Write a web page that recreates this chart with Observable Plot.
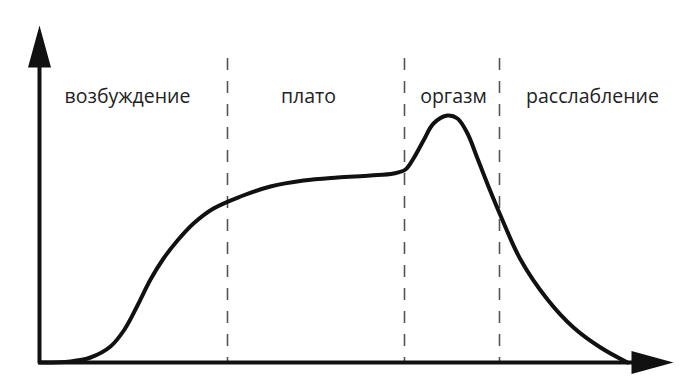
<!DOCTYPE html>
<html>
<head>
<meta charset="utf-8">
<script src="https://cdn.jsdelivr.net/npm/d3@7"></script>
<script src="https://cdn.jsdelivr.net/npm/@observablehq/plot@0.6"></script>
<style>
  html, body { margin: 0; padding: 0; background: #fff; }
  #chart svg { display: block; }
</style>
</head>
<body>
<div id="chart"></div>
<script>
// Phase names and boundaries (time units)
const phaseNames = ["возбуждение", "плато", "оргазм", "расслабление"];
const phaseBounds = [188, 365, 460];          // dashed separators
const labelT = [88, 269, 414, 553];            // label centers along time

// Response curve (time, intensity)
const curveT = [0, 31, 51, 71, 85, 98, 111, 124, 138, 154, 174, 201, 231, 264, 298, 331, 354, 366, 374, 384, 394, 408, 418, 428, 438, 451, 461, 481, 508, 534, 561, 588];
const curveV = [0, 1, 5, 16, 33, 57, 83, 104, 122, 139, 154, 166, 176, 182, 185, 187, 189, 193, 204, 222, 239, 247, 244, 229, 204, 171, 147, 103, 63, 35, 15, 0];

// Axis extents
const timeMax = 634;
const valueMax = 337;
const separatorTop = 304;
const labelV = 266;

const curve = curveT.map((t, i) => ({t, v: curveV[i]}));
const labels = phaseNames.map((name, i) => ({name, t: labelT[i]}));

const headLen = 42, headHalf = 11.5;
const arrowUp = { draw(ctx) { ctx.moveTo(0, 0); ctx.lineTo(-headHalf, headLen); ctx.lineTo(headHalf, headLen); ctx.closePath(); } };
const arrowRight = { draw(ctx) { ctx.moveTo(0, 0); ctx.lineTo(-headLen, -headHalf); ctx.lineTo(-headLen, headHalf); ctx.closePath(); } };

const chart = Plot.plot({
  width: 700,
  height: 385,
  marginLeft: 39,
  marginRight: 0,
  marginTop: 0,
  marginBottom: 23,
  x: {domain: [0, 661], axis: null},
  y: {domain: [0, 362], axis: null},
  style: {background: "#fff"},
  marks: [
    Plot.ruleX(phaseBounds, {x: d => d, y1: separatorTop, y2: 0, stroke: "#555", strokeWidth: 1.6, strokeDasharray: "12,11"}),
    Plot.ruleX([0], {y1: 0, y2: valueMax - 30, stroke: "#111", strokeWidth: 4}),
    Plot.ruleY([0], {x1: -1, x2: timeMax - 30, stroke: "#111", strokeWidth: 4}),
    Plot.dot([{t: 0, v: valueMax}], {x: "t", y: "v", symbol: arrowUp, fill: "#111", stroke: "none"}),
    Plot.dot([{t: timeMax, v: 0}], {x: "t", y: "v", symbol: arrowRight, fill: "#111", stroke: "none"}),
    Plot.line(curve, {x: "t", y: "v", curve: "catmull-rom", stroke: "#111", strokeWidth: 4, strokeLinejoin: "round", strokeLinecap: "round"}),
    Plot.text(labels, {x: "t", y: () => labelV, text: "name", fontSize: 19.5, fontFamily: "Open Sans", fill: "#222", textAnchor: "middle"})
  ]
});
document.getElementById("chart").appendChild(chart);
</script>
</body>
</html>
